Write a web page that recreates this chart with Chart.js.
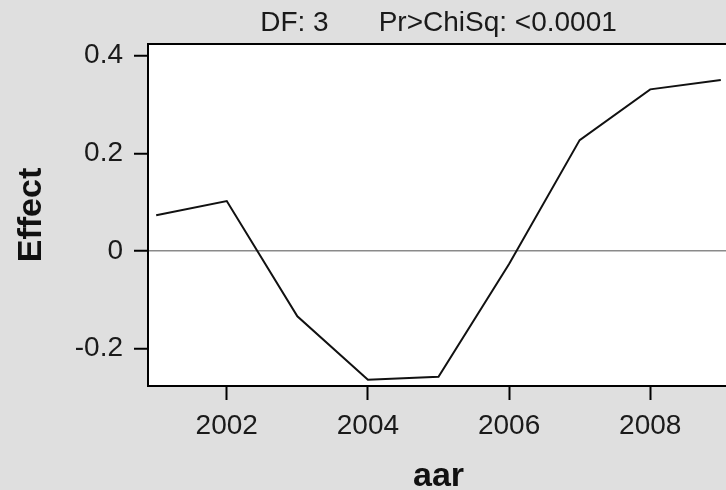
<!DOCTYPE html>
<html>
<head>
<meta charset="utf-8">
<script src="https://cdn.jsdelivr.net/npm/chart.js@4.4.1/dist/chart.umd.min.js"></script>
<style>
  html, body { margin: 0; padding: 0; background: #dfdfdf; overflow: hidden; width: 726px; height: 490px; }
  canvas { display: block; }
</style>
</head>
<body>
<canvas id="c" width="740" height="500"></canvas>
<script>
// ---- data ----
const years = [2001, 2002, 2003, 2004, 2005, 2006, 2007, 2008, 2009];
const effect = [0.073, 0.102, -0.134, -0.264, -0.258, -0.027, 0.227, 0.331, 0.350];
const xTicks = [2002, 2004, 2006, 2008];
const yTicks = [-0.2, 0, 0.2, 0.4];
const titleParts = ["DF: 3", "Pr>ChiSq: <0.0001"];
const xTitle = "aar";
const yTitle = "Effect";

const points = years.map((y, i) => ({ x: y, y: effect[i] }));

const frame = {
  id: 'frame',
  beforeDraw(chart) {
    const { ctx, chartArea: a } = chart;
    ctx.save();
    ctx.fillStyle = '#dfdfdf';
    ctx.fillRect(0, 0, chart.width, chart.height);
    ctx.fillStyle = '#ffffff';
    ctx.fillRect(a.left, a.top, a.right - a.left, a.bottom - a.top);
    ctx.restore();
  },
  afterDraw(chart) {
    const { ctx, chartArea: a } = chart;
    ctx.save();
    ctx.strokeStyle = '#000';
    ctx.lineWidth = 2;
    ctx.strokeRect(a.left, a.top, a.right - a.left, a.bottom - a.top);
    // title
    ctx.font = '28px "Liberation Sans", Arial, sans-serif';
    ctx.fillStyle = '#1a1a1a';
    ctx.textBaseline = 'middle';
    ctx.textAlign = 'left';
    const gap = 50;
    const w1 = ctx.measureText(titleParts[0]).width;
    const w2 = ctx.measureText(titleParts[1]).width;
    const cx = (a.left + a.right) / 2;
    const start = cx - (w1 + gap + w2) / 2;
    ctx.fillText(titleParts[0], start, 23);
    ctx.fillText(titleParts[1], start + w1 + gap, 23);
    ctx.restore();
  }
};

new Chart(document.getElementById('c'), {
  type: 'line',
  data: {
    datasets: [{
      data: points,
      borderColor: '#111',
      borderWidth: 2,
      pointRadius: 0,
      tension: 0,
      fill: false
    }]
  },
  options: {
    responsive: false,
    animation: false,
    layout: { padding: { top: 44, right: 11, left: 0, bottom: 0 } },
    plugins: { legend: { display: false }, tooltip: { enabled: false }, title: { display: false } },
    scales: {
      x: {
        type: 'linear',
        min: 2000.884,
        max: 2009.116,
        afterBuildTicks(s) { s.ticks = xTicks.map(v => ({ value: v })); },
        afterFit(s) { s.height = 114; },
        ticks: {
          callback: v => String(v),
          font: { family: '"Liberation Sans", Arial, sans-serif', size: 28 },
          color: '#1a1a1a',
          padding: 9,
          maxRotation: 0,
          autoSkip: false
        },
        grid: { drawOnChartArea: false, drawTicks: true, tickLength: 14, tickWidth: 2, tickColor: '#000', color: '#000' },
        border: { display: true, color: '#000', width: 2 },
        title: {
          display: true, text: xTitle,
          font: { family: '"Liberation Sans", Arial, sans-serif', size: 34, weight: 'bold' },
          color: '#111',
          padding: { top: 0, bottom: 3 }
        }
      },
      y: {
        type: 'linear',
        min: -0.277,
        max: 0.424,
        afterBuildTicks(s) { s.ticks = yTicks.map(v => ({ value: v })); },
        afterFit(s) { s.width = 148; },
        ticks: {
          callback: v => (v === 0 ? '0' : String(Math.round(v * 10) / 10)),
          font: { family: '"Liberation Sans", Arial, sans-serif', size: 28 },
          color: '#1a1a1a',
          padding: 11
        },
        grid: {
          drawOnChartArea: true,
          drawTicks: true,
          tickLength: 14,
          tickWidth: 2,
          tickColor: '#000',
          lineWidth: 1.5,
          color: c => (c.tick && c.tick.value === 0 ? '#8a8a8a' : 'rgba(0,0,0,0)')
        },
        border: { display: true, color: '#000', width: 2 },
        title: {
          display: true, text: yTitle,
          font: { family: '"Liberation Sans", Arial, sans-serif', size: 34, weight: 'bold' },
          color: '#111',
          padding: { top: 11, bottom: 0 }
        }
      }
    }
  },
  plugins: [frame]
});
</script>
</body>
</html>
